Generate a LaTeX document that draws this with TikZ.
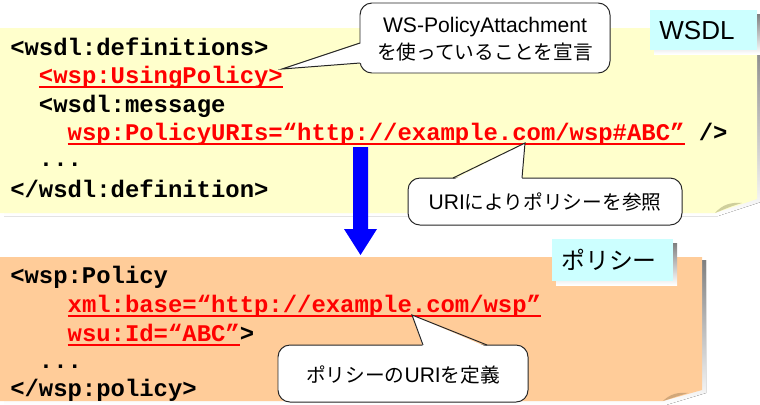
\documentclass[tikz,border=0pt]{standalone}
\usepackage{fontspec}
\setmainfont{Liberation Sans}
\newfontfamily\codefont{Liberation Mono}
\newfontfamily\jpfont{Noto Sans CJK JP}
\definecolor{notey}{HTML}{FFFFCC}
\definecolor{noteo}{HTML}{FFCC99}
\definecolor{tagc}{HTML}{CCFFFF}
\definecolor{shade}{HTML}{8C8C8C}
\definecolor{foldy}{HTML}{CFCF9C}
\definecolor{foldo}{HTML}{D1A77A}
\newcommand\redul[1]{{\color{red}\setbox0\hbox{#1}\rlap{\rule[-3.5pt]{\wd0}{1.4pt}}\box0}}
\newcommand\jp[1]{{\jpfont\fontsize{14pt}{19pt}\selectfont #1}}
\begin{document}
\begin{tikzpicture}[x=0.025cm, y=-0.025cm,
  codeline/.style={anchor=base west, inner sep=0pt, font=\codefont\bfseries\fontsize{17pt}{20pt}\selectfont},
  tagtext/.style={inner sep=0pt},
  bubble/.style={draw=black!85, fill=white, line width=0.7pt, rounded corners=8.5pt},
  pointer/.style={draw=black!85, line width=0.7pt, line join=miter},
  bubbletext/.style={align=center, inner sep=0pt, font=\fontsize{15pt}{19pt}\selectfont}
]
\useasboundingbox (0,0) rectangle (760,404);

% sheets with shadow and curled corner
\fill[shade] (4,31) -- (761,31) -- (761,202) -- (718,216) -- (4,216) -- cycle;
\fill[notey] (0,28) -- (757,28) -- (757,199) -- (715,213) -- (0,213) -- cycle;
\fill[foldy] (715,213) .. controls (722,205) and (730,202) .. (742,203) .. controls (732,206) .. (715,213);
\fill[shade] (4,260) -- (706,260) -- (706,393) -- (666,405) -- (4,405) -- cycle;
\fill[noteo] (0,257) -- (702,257) -- (702,390) -- (663,401) -- (0,401) -- cycle;
\fill[foldo] (663,401) .. controls (670,394) and (678,392) .. (688,393) .. controls (678,396) .. (663,401);

% tags
\fill[shade] (654,14) rectangle (761,54);
\fill[tagc] (650,10) rectangle (757,50);
\node[tagtext, font=\fontsize{18.5pt}{22pt}\selectfont] (wsdl) at (697,31) {WSDL};
\fill[shade] (556,243) rectangle (677,285);
\fill[tagc] (552,239) rectangle (673,281);
\node[tagtext, font=\jpfont\fontsize{17pt}{20pt}\selectfont] (policy) at (609,260) {ポリシー};

% big arrow
\fill[blue] (353,147) -- (368,147) -- (368,229) -- (377,229) -- (360.5,255) -- (344,229) -- (353,229) -- cycle;

% WSDL code
\node[codeline] (w1) at (10,55) {<wsdl:definitions>};
\node[codeline] (w2) at (38.7,83) {\redul{<wsp:UsingPolicy>}};
\node[codeline] (w3) at (38.7,112) {<wsdl:message};
\node[codeline] (w4) at (67.4,140) {\redul{wsp:PolicyURIs=“http://example.com/wsp\#ABC”} />};
\node[codeline] (w5) at (38.7,166) {...};
\node[codeline] (w6) at (10,197) {</wsdl:definition>};

% policy code
\node[codeline] (p1) at (10,283) {<wsp:Policy};
\node[codeline] (p2) at (67.4,312) {\redul{xml:base=“http://example.com/wsp”}};
\node[codeline] (p3) at (67.4,341) {\redul{wsu:Id=“ABC”}>};
\node[codeline] (p4) at (38.7,368) {...};
\node[codeline] (p5) at (10,396) {</wsp:policy>};

% callouts
\coordinate (tip1) at (282,69);
\coordinate (tip2) at (525,143);
\coordinate (tip3) at (412,315);
\draw[bubble] (360,3) rectangle (610,73);
\fill[white] (362,43) -- (tip1) -- (362,63) -- cycle;
\draw[pointer] (360,43) -- (tip1) -- (360,63);
\node[bubbletext] (decl) at (485,39) {WS-PolicyAttachment\\\jp{を使っていることを宣言}};

\draw[bubble] (408,178) rectangle (682,225);
\fill[white] (453,180) -- (tip2) -- (522,180) -- cycle;
\draw[pointer] (453,178) -- (tip2) -- (522,178);
\node[bubbletext] (ref) at (545,202) {URI\jp{によりポリシーを参照}};

\draw[bubble] (278,345) rectangle (528,402);
\fill[white] (423,347) -- (tip3) -- (487,347) -- cycle;
\draw[pointer] (423,345) -- (tip3) -- (487,345);
\node[bubbletext] (def) at (403,375) {\jp{ポリシーの}URI\jp{を定義}};
\end{tikzpicture}
\end{document}
